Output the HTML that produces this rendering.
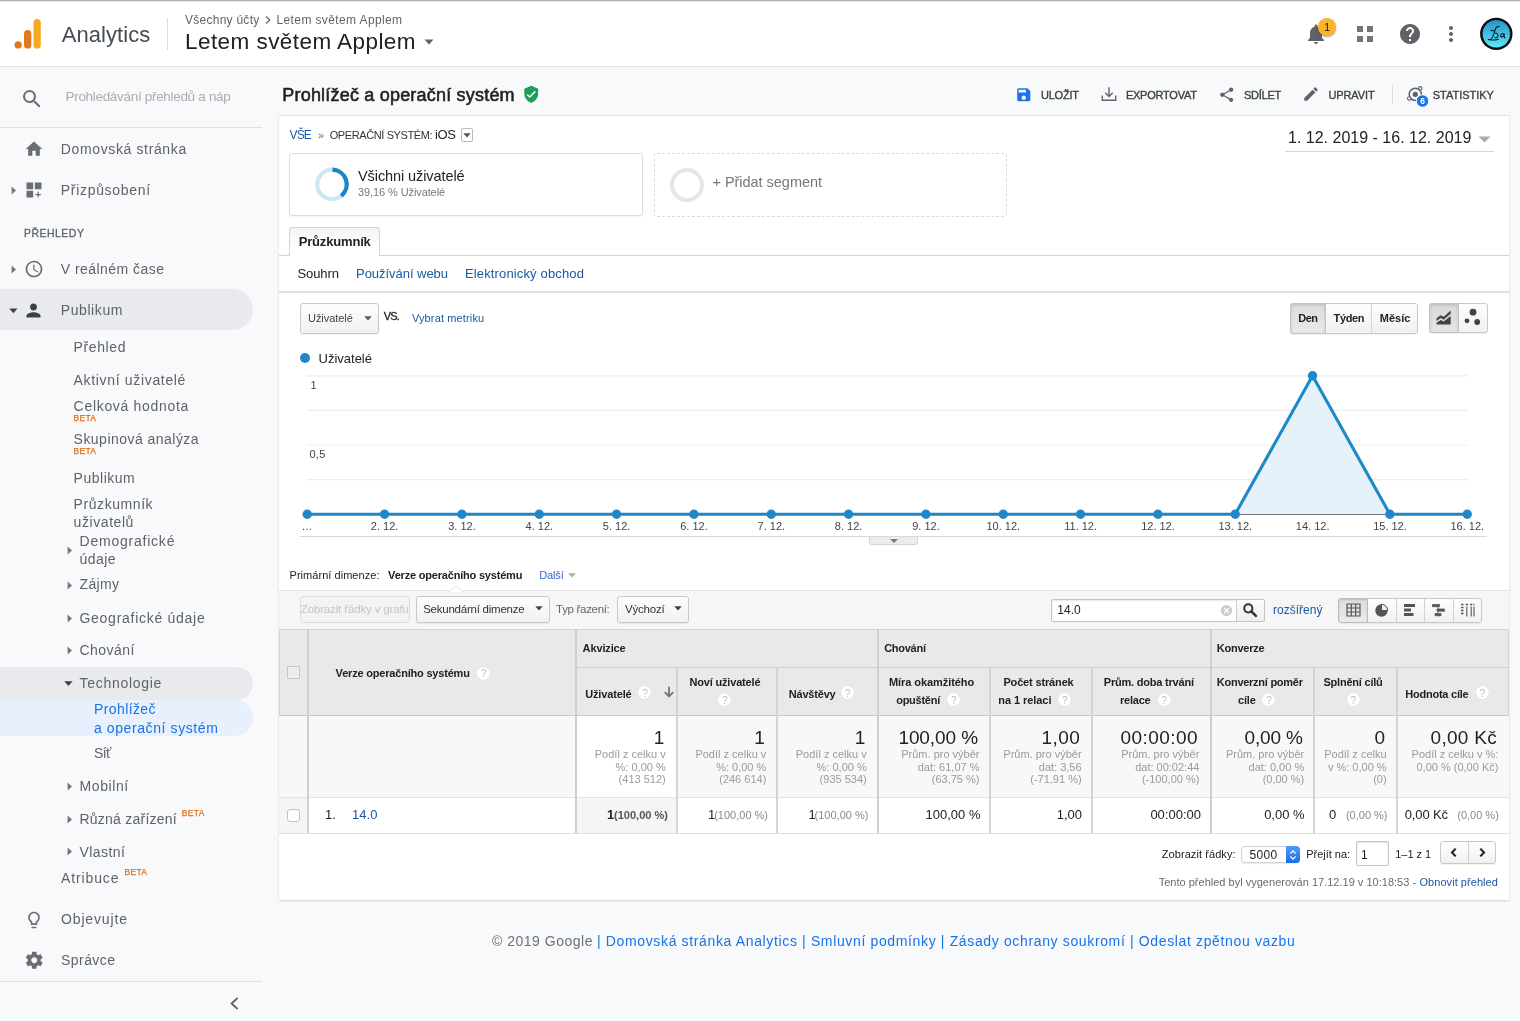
<!DOCTYPE html>
<html><head><meta charset="utf-8"><title>Analytics</title>
<style>
html,body{margin:0;padding:0}
body{width:1520px;height:1021px;overflow:hidden;position:relative;background:#f8f9fa;font-family:"Liberation Sans",sans-serif;}
.a{position:absolute;display:block;box-sizing:border-box}
.t{position:absolute;white-space:pre;line-height:1;display:block}
#w{position:absolute;left:0;top:0;width:1520px;height:1021px;will-change:transform}
</style></head><body><div id="w">
<div class="a" style="left:0px;top:0px;width:1520px;height:66px;background:#fff;"></div>
<div class="a" style="left:0px;top:0px;width:1520px;height:1px;background:#b2b2b2;"></div>
<div class="a" style="left:0px;top:1px;width:1520px;height:1px;background:#e6e6e6;"></div>
<div class="a" style="left:0px;top:66px;width:1520px;height:1px;background:#dfe1e5;"></div>
<svg class="a" style="left:12px;top:16px" width="34" height="36" viewBox="0 0 34 36"><rect x="21.5" y="3" width="7.3" height="29.6" rx="3.65" fill="#f7a823"/><rect x="12" y="14.1" width="7.3" height="18.5" rx="3.65" fill="#e3771f"/><circle cx="6.15" cy="28.95" r="3.65" fill="#e2761c"/></svg>
<span class="t" style="top:24px;font-size:22px;color:#454c54;left:61.80px;letter-spacing:0.050px;">Analytics</span>
<div class="a" style="left:167px;top:18px;width:1px;height:32px;background:#dadce0;"></div>
<span class="t" style="top:14px;font-size:12px;color:#5f6368;left:185.00px;letter-spacing:0.260px;">Všechny účty</span>
<svg class="a" style="left:263px;top:14.5px" width="10" height="10" viewBox="0 0 10 10"><path d="M3 1.5L6.8 5 3 8.5" fill="none" stroke="#5f6368" stroke-width="1.3"/></svg>
<span class="t" style="top:14px;font-size:12px;color:#5f6368;left:276.50px;letter-spacing:0.382px;">Letem světem Applem</span>
<span class="t" style="top:31px;font-size:22.5px;color:#202124;left:185.00px;letter-spacing:0.442px;">Letem světem Applem</span>
<svg class="a" style="left:424px;top:39px" width="10" height="6" viewBox="0 0 10 6"><path d="M0.5 0.5h9L5 5.5z" fill="#5f6368"/></svg>
<svg class="a" style="left:1304px;top:22px" width="24" height="24" viewBox="0 0 24 24" ><path fill="#5f6368" d="M12 22c1.1 0 2-.9 2-2h-4c0 1.1.89 2 2 2zm6-6v-5c0-3.07-1.64-5.64-4.5-6.32V4c0-.83-.67-1.5-1.5-1.5s-1.5.67-1.5 1.5v.68C7.63 5.36 6 7.92 6 11v5l-2 2v1h16v-1l-2-2z"/></svg>
<div class="a" style="left:1318.2px;top:18.2px;width:17.6px;height:17.6px;border-radius:50%;background:#f8b52c;box-shadow:0 1px 2px rgba(0,0,0,.35)"></div>
<span class="t" style="top:22px;font-size:11.5px;color:#202124;left:1327.20px;transform:translateX(-50%);">1</span>
<div class="a" style="left:1357px;top:26px;width:6.2px;height:6.2px;background:#757575;"></div>
<div class="a" style="left:1367px;top:26px;width:6.2px;height:6.2px;background:#757575;"></div>
<div class="a" style="left:1357px;top:36px;width:6.2px;height:6.2px;background:#757575;"></div>
<div class="a" style="left:1367px;top:36px;width:6.2px;height:6.2px;background:#757575;"></div>
<svg class="a" style="left:1398.3px;top:21.6px" width="24" height="24" viewBox="0 0 24 24" ><path fill="#5f6368" d="M12 2C6.48 2 2 6.48 2 12s4.48 10 10 10 10-4.48 10-10S17.52 2 12 2zm1 17h-2v-2h2v2zm2.07-7.75l-.9.92C13.45 12.9 13 13.5 13 15h-2v-.5c0-1.1.45-2.1 1.17-2.83l1.24-1.26c.37-.36.59-.86.59-1.41 0-1.1-.9-2-2-2s-2 .9-2 2H8c0-2.21 1.79-4 4-4s4 1.79 4 4c0 .88-.36 1.68-.93 2.25z"/></svg>
<svg class="a" style="left:1439.1px;top:21.6px" width="24" height="24" viewBox="0 0 24 24" ><path fill="#5f6368" d="M12 8c1.1 0 2-.9 2-2s-.9-2-2-2-2 .9-2 2 .9 2 2 2zm0 2c-1.1 0-2 .9-2 2s.9 2 2 2 2-.9 2-2-.9-2-2-2zm0 6c-1.1 0-2 .9-2 2s.9 2 2 2 2-.9 2-2-.9-2-2-2z"/></svg>
<svg class="a" style="left:1479px;top:16px" width="35" height="36" viewBox="0 0 35 36"><defs><linearGradient id="av" x1="0" y1="0" x2="0" y2="1"><stop offset="0" stop-color="#2792cc"/><stop offset="1" stop-color="#5eeaf8"/></linearGradient></defs><circle cx="17.3" cy="17.85" r="16.2" fill="#0c0a0a"/><circle cx="17.3" cy="17.85" r="14" fill="url(#av)"/><circle cx="17.3" cy="17.85" r="14" fill="none" stroke="#0c0a0a" stroke-width="1" stroke-dasharray="1.6 1.1"/><path d="M20.3 10.8c-1.500-1.100-3.100.3-3.900 2.400-1 2.700-1.700 6.300-3.400 8.800-1 1.400-2.700 2-3.800 1.300M9.600 23.500c3 .8 7 .500 9.900-.3M12 14.300c1.200.5 2.400.6 3.600.3M16.500 17.100c1.500.2 2.900 1.300 2.500 3.100-.3 1.200-1.700 1.600-2.900 1.300M25.200 17.900c-1.800-.8-3.500.4-3.700 1.800-.1 1.300 1.400 1.700 2.500.8l1.500-2.500c-.6 1.500-.7 3 .5 4" fill="none" stroke="#0a1a22" stroke-width="1.050" stroke-linecap="round"/></svg>
<svg class="a" style="left:19.5px;top:86.5px" width="24" height="24" viewBox="0 0 24 24" ><path fill="#6a6d71" d="M15.5 14h-.79l-.28-.27A6.471 6.471 0 0 0 16 9.5 6.5 6.5 0 1 0 9.5 16c1.61 0 3.09-.59 4.23-1.57l.27.28v.79l5 4.99L20.49 19l-4.99-5zm-6 0C7.01 14 5 11.99 5 9.5S7.01 5 9.5 5 14 7.01 14 9.5 11.99 14 9.5 14z"/></svg>
<span class="t" style="top:90px;font-size:13.5px;color:#aaadb1;left:65.50px;letter-spacing:-0.311px;">Prohledávání přehledů a náp</span>
<div class="a" style="left:0px;top:127px;width:262px;height:1px;background:#e0e0e0;"></div>
<svg class="a" style="left:24.2px;top:138.9px" width="20" height="20" viewBox="0 0 24 24" ><path fill="#6a6d71" d="M10 20v-6h4v6h5v-8h3L12 3 2 12h3v8z"/></svg>
<span class="t" style="top:142px;font-size:14px;color:#5f6368;left:60.80px;letter-spacing:0.629px;">Domovská stránka</span>
<svg class="a" style="left:10.8px;top:185.5px" width="6" height="9" viewBox="0 0 6 9"><path d="M0.6 0.6l4.4 3.9-4.4 3.9z" fill="#70757a"/></svg>
<svg class="a" style="left:24px;top:179.8px" width="20" height="20" viewBox="0 0 24 24" ><path fill="#6a6d71" d="M3 3h8v8H3zm10 0h8v8h-8zM3 13h8v8H3zm14.7 1.2h-1.4v2.6h-2.6v1.4h2.6v2.6h1.4v-2.6h2.6v-1.4h-2.6z"/></svg>
<span class="t" style="top:183px;font-size:14px;color:#5f6368;left:60.80px;letter-spacing:0.690px;">Přizpůsobení</span>
<span class="t" style="top:228px;font-size:10.5px;color:#5f6368;left:23.90px;letter-spacing:0.486px;-webkit-text-stroke:0.3px #5f6368;">PŘEHLEDY</span>
<svg class="a" style="left:10.8px;top:264.5px" width="6" height="9" viewBox="0 0 6 9"><path d="M0.6 0.6l4.4 3.9-4.4 3.9z" fill="#70757a"/></svg>
<svg class="a" style="left:23.8px;top:258.8px" width="20" height="20" viewBox="0 0 24 24" ><path fill="#6a6d71" d="M11.99 2C6.47 2 2 6.48 2 12s4.47 10 9.99 10C17.52 22 22 17.52 22 12S17.52 2 11.99 2zM12 20c-4.42 0-8-3.58-8-8s3.58-8 8-8 8 3.58 8 8-3.58 8-8 8zm.5-13H11v6l5.25 3.15.75-1.23-4.5-2.67z"/></svg>
<span class="t" style="top:262px;font-size:14px;color:#5f6368;left:60.80px;letter-spacing:0.458px;">V reálném čase</span>
<div class="a" style="left:0;top:289px;width:253px;height:41px;background:#e8eaed;border-radius:0 20.5px 20.5px 0"></div>
<svg class="a" style="left:9px;top:307.5px" width="9" height="6" viewBox="0 0 9 6"><path d="M0.3 0.4h8.2L4.4 5.2z" fill="#3c4043"/></svg>
<svg class="a" style="left:23.2px;top:299.6px" width="21" height="21" viewBox="0 0 24 24" ><path fill="#3c4043" d="M12 12c2.21 0 4-1.79 4-4s-1.79-4-4-4-4 1.79-4 4 1.79 4 4 4zm0 2c-2.67 0-8 1.34-8 4v2h16v-2c0-2.66-5.33-4-8-4z"/></svg>
<span class="t" style="top:303px;font-size:14px;color:#5f6368;left:60.80px;letter-spacing:0.576px;">Publikum</span>
<span class="t" style="top:340px;font-size:14px;color:#5f6368;left:73.60px;letter-spacing:0.605px;">Přehled</span>
<span class="t" style="top:373px;font-size:14px;color:#5f6368;left:73.60px;letter-spacing:0.666px;">Aktivní uživatelé</span>
<span class="t" style="top:399px;font-size:14px;color:#5f6368;left:73.60px;letter-spacing:0.695px;">Celková hodnota</span>
<span class="t" style="top:432px;font-size:14px;color:#5f6368;left:73.60px;letter-spacing:0.469px;">Skupinová analýza</span>
<span class="t" style="top:471px;font-size:14px;color:#5f6368;left:73.60px;letter-spacing:0.513px;">Publikum</span>
<span class="t" style="top:497px;font-size:14px;color:#5f6368;left:73.60px;letter-spacing:0.568px;">Průzkumník</span>
<span class="t" style="top:515px;font-size:14px;color:#5f6368;left:73.60px;letter-spacing:0.570px;">uživatelů</span>
<span class="t" style="top:534px;font-size:14px;color:#5f6368;left:79.50px;letter-spacing:0.777px;">Demografické</span>
<span class="t" style="top:552px;font-size:14px;color:#5f6368;left:79.50px;letter-spacing:0.427px;">údaje</span>
<span class="t" style="top:577px;font-size:14px;color:#5f6368;left:79.50px;letter-spacing:0.375px;">Zájmy</span>
<span class="t" style="top:611px;font-size:14px;color:#5f6368;left:79.50px;letter-spacing:0.721px;">Geografické údaje</span>
<span class="t" style="top:643px;font-size:14px;color:#5f6368;left:79.50px;letter-spacing:0.478px;">Chování</span>
<span class="t" style="top:414px;font-size:8.5px;color:#dd6f1c;left:73.40px;letter-spacing:0.355px;-webkit-text-stroke:0.25px #dd6f1c;">BETA</span>
<span class="t" style="top:447px;font-size:8.5px;color:#dd6f1c;left:73.40px;letter-spacing:0.355px;-webkit-text-stroke:0.25px #dd6f1c;">BETA</span>
<svg class="a" style="left:66.6px;top:545.7px" width="6" height="9" viewBox="0 0 6 9"><path d="M0.6 0.6l4.4 3.9-4.4 3.9z" fill="#70757a"/></svg>
<svg class="a" style="left:66.6px;top:580.5px" width="6" height="9" viewBox="0 0 6 9"><path d="M0.6 0.6l4.4 3.9-4.4 3.9z" fill="#70757a"/></svg>
<svg class="a" style="left:66.6px;top:613.5px" width="6" height="9" viewBox="0 0 6 9"><path d="M0.6 0.6l4.4 3.9-4.4 3.9z" fill="#70757a"/></svg>
<svg class="a" style="left:66.6px;top:646.4px" width="6" height="9" viewBox="0 0 6 9"><path d="M0.6 0.6l4.4 3.9-4.4 3.9z" fill="#70757a"/></svg>
<svg class="a" style="left:66.6px;top:781.5px" width="6" height="9" viewBox="0 0 6 9"><path d="M0.6 0.6l4.4 3.9-4.4 3.9z" fill="#70757a"/></svg>
<svg class="a" style="left:66.6px;top:814.5px" width="6" height="9" viewBox="0 0 6 9"><path d="M0.6 0.6l4.4 3.9-4.4 3.9z" fill="#70757a"/></svg>
<svg class="a" style="left:66.6px;top:847.3px" width="6" height="9" viewBox="0 0 6 9"><path d="M0.6 0.6l4.4 3.9-4.4 3.9z" fill="#70757a"/></svg>
<div class="a" style="left:0;top:667px;width:253px;height:32.6px;background:#e8eaed;border-radius:0 16.5px 16.5px 0"></div>
<div class="a" style="left:0;top:699.6px;width:253px;height:36.9px;background:#e8f0fe;border-radius:0 18px 18px 0"></div>
<svg class="a" style="left:64.4px;top:681px" width="9" height="6" viewBox="0 0 9 6"><path d="M0.3 0.3h8.3L4.4 5.1z" fill="#3c4043"/></svg>
<span class="t" style="top:676px;font-size:14px;color:#5f6368;left:79.50px;letter-spacing:0.706px;">Technologie</span>
<span class="t" style="top:702px;font-size:14px;color:#1a73e8;left:93.90px;letter-spacing:0.416px;">Prohlížeč</span>
<span class="t" style="top:721px;font-size:14px;color:#1a73e8;left:93.90px;letter-spacing:0.601px;">a operační systém</span>
<span class="t" style="top:746px;font-size:14px;color:#5f6368;left:93.90px;letter-spacing:-0.595px;">Síť</span>
<span class="t" style="top:779px;font-size:14px;color:#5f6368;left:79.50px;letter-spacing:0.594px;">Mobilní</span>
<span class="t" style="top:812px;font-size:14px;color:#5f6368;left:79.50px;letter-spacing:0.231px;">Různá zařízení</span>
<span class="t" style="top:809px;font-size:8.5px;color:#dd6f1c;left:181.70px;letter-spacing:0.355px;-webkit-text-stroke:0.25px #dd6f1c;">BETA</span>
<span class="t" style="top:845px;font-size:14px;color:#5f6368;left:79.60px;letter-spacing:0.413px;">Vlastní</span>
<span class="t" style="top:871px;font-size:14px;color:#5f6368;left:61.00px;letter-spacing:0.868px;">Atribuce</span>
<span class="t" style="top:868px;font-size:8.5px;color:#dd6f1c;left:124.40px;letter-spacing:0.355px;-webkit-text-stroke:0.25px #dd6f1c;">BETA</span>
<svg class="a" style="left:23.7px;top:909.7px" width="20" height="20" viewBox="0 0 24 24" ><path fill="#6a6d71" d="M9 21c0 .55.45 1 1 1h4c.55 0 1-.45 1-1v-1H9v1zm3-19C8.14 2 5 5.14 5 9c0 2.38 1.19 4.47 3 5.74V17c0 .55.45 1 1 1h6c.55 0 1-.45 1-1v-2.26c1.81-1.27 3-3.36 3-5.74 0-3.86-3.14-7-7-7zm2.85 11.1l-.85.6V16h-4v-2.3l-.85-.6A4.997 4.997 0 0 1 7 9c0-2.76 2.24-5 5-5s5 2.24 5 5c0 1.63-.8 3.16-2.15 4.1z"/></svg>
<span class="t" style="top:912px;font-size:14px;color:#5f6368;left:61.00px;letter-spacing:0.860px;">Objevujte</span>
<svg class="a" style="left:23.7px;top:950.4px" width="20.5" height="20.5" viewBox="0 0 24 24" ><path fill="#6a6d71" d="M19.43 12.98c.04-.32.07-.64.07-.98s-.03-.66-.07-.98l2.11-1.65c.19-.15.24-.42.12-.64l-2-3.46c-.12-.22-.39-.3-.61-.22l-2.49 1c-.52-.4-1.08-.73-1.69-.98l-.38-2.65C14.46 2.18 14.25 2 14 2h-4c-.25 0-.46.18-.49.42l-.38 2.65c-.61.25-1.17.59-1.69.98l-2.49-1c-.23-.09-.49 0-.61.22l-2 3.46c-.13.22-.07.49.12.64l2.11 1.65c-.04.32-.07.65-.07.98s.03.66.07.98l-2.11 1.65c-.19.15-.24.42-.12.64l2 3.46c.12.22.39.3.61.22l2.49-1c.52.4 1.08.73 1.69.98l.38 2.65c.03.24.24.42.49.42h4c.25 0 .46-.18.49-.42l.38-2.65c.61-.25 1.17-.59 1.69-.98l2.49 1c.23.09.49 0 .61-.22l2-3.46c.12-.22.07-.49-.12-.64l-2.11-1.65zM12 15.5c-1.93 0-3.5-1.57-3.5-3.5s1.57-3.5 3.5-3.5 3.5 1.57 3.5 3.5-1.57 3.5-3.5 3.5z"/></svg>
<span class="t" style="top:953px;font-size:14px;color:#5f6368;left:61.00px;letter-spacing:0.449px;">Správce</span>
<div class="a" style="left:0px;top:981px;width:262px;height:1px;background:#e0e0e0;"></div>
<svg class="a" style="left:228px;top:996px" width="13" height="15" viewBox="0 0 13 15"><path d="M9.6 2L3.6 7.5l6 5.5" fill="none" stroke="#5f6368" stroke-width="1.8"/></svg>
<span class="t" style="top:86px;font-size:18px;color:#202124;left:282.30px;letter-spacing:0.200px;-webkit-text-stroke:0.55px #202124;">Prohlížeč a operační systém</span>
<svg class="a" style="left:521.5px;top:85px" width="18.5" height="18.5" viewBox="0 0 24 24" ><path fill="#1e9d58" d="M12 1L3 5v6c0 5.55 3.84 10.74 9 12 5.16-1.26 9-6.45 9-12V5l-9-4zm-2 16l-4-4 1.41-1.41L10 14.17l6.59-6.59L18 9l-8 8z"/></svg>
<svg class="a" style="left:1014.5px;top:85.5px" width="17.5" height="17.5" viewBox="0 0 24 24" ><path fill="#1a73e8" d="M17 3H5c-1.11 0-2 .9-2 2v14c0 1.1.89 2 2 2h14c1.1 0 2-.9 2-2V7l-4-4zm-5 16c-1.66 0-3-1.34-3-3s1.34-3 3-3 3 1.34 3 3-1.34 3-3 3zm3-10H5V5h10v4z"/></svg>
<span class="t" style="top:90px;font-size:11px;color:#3c4043;left:1041.00px;letter-spacing:-0.237px;-webkit-text-stroke:0.35px #3c4043;">ULOŽIT</span>
<svg class="a" style="left:1100px;top:85px" width="18" height="18" viewBox="0 0 18 18"><path d="M9 2.2v9M5.3 7.8L9 11.5l3.7-3.7M2.3 10.5v4.8h13.4v-4.8" fill="none" stroke="#5f6368" stroke-width="1.4"/></svg>
<span class="t" style="top:90px;font-size:11px;color:#3c4043;left:1125.90px;letter-spacing:-0.236px;-webkit-text-stroke:0.35px #3c4043;">EXPORTOVAT</span>
<svg class="a" style="left:1217.5px;top:85.5px" width="17.5" height="17.5" viewBox="0 0 24 24" ><path fill="#5f6368" d="M18 16.08c-.76 0-1.44.3-1.96.77L8.91 12.7c.05-.23.09-.46.09-.7s-.04-.47-.09-.7l7.05-4.11c.54.5 1.25.81 2.04.81 1.66 0 3-1.34 3-3s-1.34-3-3-3-3 1.34-3 3c0 .24.04.47.09.7L8.04 9.81C7.5 9.31 6.79 9 6 9c-1.66 0-3 1.34-3 3s1.34 3 3 3c.79 0 1.5-.31 2.04-.81l7.12 4.16c-.05.21-.08.43-.08.65 0 1.61 1.31 2.92 2.92 2.92 1.61 0 2.92-1.31 2.92-2.92s-1.31-2.92-2.92-2.92z"/></svg>
<span class="t" style="top:90px;font-size:11px;color:#3c4043;left:1244.00px;letter-spacing:-0.253px;-webkit-text-stroke:0.35px #3c4043;">SDÍLET</span>
<svg class="a" style="left:1302.2px;top:85.2px" width="18" height="18" viewBox="0 0 24 24" ><path fill="#5f6368" d="M3 17.25V21h3.75L17.81 9.94l-3.75-3.75L3 17.25zM20.71 7.04c.39-.39.39-1.02 0-1.41l-2.34-2.34c-.39-.39-1.02-.39-1.41 0l-1.83 1.83 3.75 3.75 1.83-1.83z"/></svg>
<span class="t" style="top:90px;font-size:11px;color:#3c4043;left:1328.40px;letter-spacing:-0.094px;-webkit-text-stroke:0.35px #3c4043;">UPRAVIT</span>
<div class="a" style="left:1392px;top:85px;width:1px;height:19px;background:#dadce0;"></div>
<svg class="a" style="left:1405px;top:83px" width="26" height="26" viewBox="0 0 26 26"><circle cx="10.3" cy="11.3" r="6.1" fill="none" stroke="#5f6368" stroke-width="1.5"/><circle cx="10.3" cy="11.3" r="2.6" fill="#5f6368"/><circle cx="15.3" cy="5.3" r="1.7" fill="#f8f9fa" stroke="#5f6368" stroke-width="1.1"/><circle cx="4.2" cy="15.5" r="1.7" fill="#f8f9fa" stroke="#5f6368" stroke-width="1.1"/><circle cx="17.5" cy="18" r="6.2" fill="#1a73e8" stroke="#f8f9fa" stroke-width="1"/><text x="17.5" y="21.2" text-anchor="middle" font-family="Liberation Sans" font-weight="700" font-size="8.5" fill="#fff">6</text></svg>
<span class="t" style="top:90px;font-size:11px;color:#3c4043;left:1432.80px;letter-spacing:-0.033px;-webkit-text-stroke:0.35px #3c4043;">STATISTIKY</span>
<div class="a" style="left:279px;top:115px;width:1230px;height:784.5px;background:#fff;border-top:1px solid #e3e4e6;box-shadow:0 1px 2px rgba(0,0,0,.16)"></div>
<span class="t" style="top:129px;font-size:12px;color:#1a5aa0;left:289.50px;letter-spacing:-0.839px;">VŠE</span>
<span class="t" style="top:130px;font-size:11px;color:#666;left:318.00px;">»</span>
<span class="t" style="top:130px;font-size:11px;color:#333;left:329.70px;letter-spacing:-0.394px;">OPERAČNÍ SYSTÉM:</span>
<span class="t" style="top:128px;font-size:13px;color:#222;left:435.00px;letter-spacing:-0.391px;">iOS</span>
<div class="a" style="left:460.5px;top:127.5px;width:12.5px;height:14px;border:1px solid #bbb;border-radius:2px;background:#fff"></div>
<svg class="a" style="left:463px;top:132.5px" width="8" height="5" viewBox="0 0 8 5"><path d="M0.3 0.3h7.4L4 4.6z" fill="#555"/></svg>
<span class="t" style="top:130px;font-size:16px;color:#222;left:1288.00px;letter-spacing:0.005px;">1. 12. 2019 - 16. 12. 2019</span>
<svg class="a" style="left:1477.5px;top:135.5px" width="13" height="7" viewBox="0 0 13 7"><path d="M0.5 0.5h12L6.5 6.5z" fill="#aaa"/></svg>
<div class="a" style="left:1284.5px;top:151px;width:209px;height:1px;background:#d5d5d5;"></div>
<div class="a" style="left:289px;top:153px;width:353.5px;height:63px;border:1px solid #dcdcdc;border-radius:3px;background:#fff;box-shadow:0 1px 1px rgba(0,0,0,.04)"></div>
<svg class="a" style="left:312px;top:164px" width="40" height="40" viewBox="0 0 40 40"><circle cx="20" cy="20.4" r="14.7" fill="none" stroke="#cfe7f5" stroke-width="4.2"/><path d="M20.51 5.71A14.7 14.7 0 0 1 29.25 31.82" fill="none" stroke="#1a86c7" stroke-width="4.2"/></svg>
<span class="t" style="top:169px;font-size:14.5px;color:#222;left:358.00px;letter-spacing:-0.088px;">Všichni uživatelé</span>
<span class="t" style="top:187px;font-size:11px;color:#777;left:358.00px;letter-spacing:-0.098px;">39,16 % Uživatelé</span>
<div class="a" style="left:653.5px;top:153px;width:353.5px;height:63.7px;border:1px dashed #dcdcdc;border-radius:3px;"></div>
<div class="a" style="left:670px;top:167.5px;width:34px;height:34px;border:4.5px solid #e6e6e6;border-radius:50%;"></div>
<span class="t" style="top:175px;font-size:14.5px;color:#777;left:712.50px;letter-spacing:-0.033px;">+ Přidat segment</span>
<div class="a" style="left:279px;top:255px;width:1230px;height:1.4px;background:#d4d4d4;"></div>
<div class="a" style="left:289px;top:227px;width:91px;height:29.4px;border:1px solid #d4d4d4;border-bottom:none;border-radius:3px 3px 0 0;background:linear-gradient(#f3f3f3,#fff 70%);"></div>
<span class="t" style="top:235px;font-size:13px;color:#222;font-weight:700;left:298.70px;letter-spacing:-0.169px;">Průzkumník</span>
<span class="t" style="top:267px;font-size:13px;color:#222;left:297.40px;letter-spacing:-0.070px;">Souhrn</span>
<span class="t" style="top:267px;font-size:13px;color:#1a5aa0;left:356.00px;letter-spacing:-0.037px;">Používání webu</span>
<span class="t" style="top:267px;font-size:13px;color:#1a5aa0;left:465.00px;letter-spacing:0.140px;">Elektronický obchod</span>
<div class="a" style="left:279px;top:291px;width:1230px;height:1.8px;background:#dedede;"></div>
<div class="a" style="left:300px;top:302.5px;width:78.5px;height:31.5px;border:1px solid #c9c9c9;border-radius:3px;background:linear-gradient(#fdfdfd,#f1f1f1);box-shadow:0 1px 1px rgba(0,0,0,.06);"></div>
<span class="t" style="top:313px;font-size:11px;color:#444;left:308.00px;letter-spacing:-0.061px;">Uživatelé</span>
<svg class="a" style="left:363.5px;top:316px" width="8" height="5" viewBox="0 0 8 5"><path d="M0.3 0.3h7.4L4 4.6z" fill="#555"/></svg>
<span class="t" style="top:311px;font-size:11px;color:#222;left:383.70px;letter-spacing:-0.745px;-webkit-text-stroke:0.3px #222;">VS.</span>
<span class="t" style="top:313px;font-size:11px;color:#1a5aa0;left:411.90px;letter-spacing:0.135px;">Vybrat metriku</span>
<div class="a" style="left:1290px;top:303px;width:128px;height:31px;border:1px solid #c9c9c9;border-radius:3px;background:linear-gradient(#fdfdfd,#f1f1f1);box-shadow:0 1px 1px rgba(0,0,0,.06);"></div>
<div class="a" style="left:1290px;top:303px;width:36px;height:31px;border:1px solid #c4c4c4;border-radius:3px 0 0 3px;background:linear-gradient(#dcdcdc,#e9e9e9);box-shadow:inset 0 1px 3px rgba(0,0,0,.15)"></div>
<div class="a" style="left:1371px;top:304px;width:1px;height:29px;background:#d4d4d4;"></div>
<span class="t" style="top:313px;font-size:11px;color:#222;font-weight:700;left:1298.30px;letter-spacing:-0.560px;">Den</span>
<span class="t" style="top:313px;font-size:11px;color:#222;font-weight:700;left:1333.50px;letter-spacing:-0.341px;">Týden</span>
<span class="t" style="top:313px;font-size:11px;color:#222;font-weight:700;left:1379.80px;letter-spacing:0.004px;">Měsíc</span>
<div class="a" style="left:1429px;top:303px;width:59px;height:29.5px;border:1px solid #c9c9c9;border-radius:3px;background:linear-gradient(#fdfdfd,#f1f1f1);box-shadow:0 1px 1px rgba(0,0,0,.06);"></div>
<div class="a" style="left:1429px;top:303px;width:29.5px;height:29.5px;border:1px solid #c4c4c4;border-radius:3px 0 0 3px;background:linear-gradient(#d8d8d8,#e6e6e6);box-shadow:inset 0 1px 3px rgba(0,0,0,.15)"></div>
<svg class="a" style="left:1435px;top:308px" width="18" height="18" viewBox="0 0 18 18"><path d="M1.5 10.2l4.2-3 3 1.6 7-6.3v3.2l-7 6-3-1.6-4.2 3z" fill="#444"/><path d="M1.5 14.8l4.2-2.9 3 1.6 7-5.6v8.6h-14.2z" fill="#444"/></svg>
<svg class="a" style="left:1463px;top:307px" width="20" height="20" viewBox="0 0 20 20"><circle cx="10" cy="5.2" r="3.4" fill="#444"/><circle cx="4" cy="13.8" r="2.4" fill="#444"/><circle cx="14.2" cy="15" r="2.9" fill="#444"/></svg>
<div class="a" style="left:299.6px;top:352.9px;width:10.2px;height:10.2px;border-radius:50%;background:#1f88c8"></div>
<span class="t" style="top:352px;font-size:13px;color:#222;left:318.50px;letter-spacing:0.003px;">Uživatelé</span>
<svg class="a" style="left:0;top:0" width="1520" height="560" viewBox="0 0 1520 560"><line x1="306.5" x2="1467.5" y1="375.80" y2="375.80" stroke="#ededed" stroke-width="1.2"/><line x1="306.5" x2="1467.5" y1="410.40" y2="410.40" stroke="#ededed" stroke-width="1.2"/><line x1="306.5" x2="1467.5" y1="445.00" y2="445.00" stroke="#ededed" stroke-width="1.2"/><line x1="306.5" x2="1467.5" y1="479.60" y2="479.60" stroke="#ededed" stroke-width="1.2"/><line x1="306.5" x2="1467.5" y1="514.50" y2="514.50" stroke="#555" stroke-width="1"/><path d="M1235.20 514.20L1312.53 375.80L1389.87 514.20Z" fill="#e6f2fa"/><polyline points="307.20,514.20 384.53,514.20 461.87,514.20 539.20,514.20 616.53,514.20 693.87,514.20 771.20,514.20 848.53,514.20 925.87,514.20 1003.20,514.20 1080.53,514.20 1157.87,514.20 1235.20,514.20 1312.53,375.80 1389.87,514.20 1467.20,514.20" fill="none" stroke="#1f88c8" stroke-width="3.1" stroke-linejoin="round"/><circle cx="307.20" cy="514.20" r="4.7" fill="#1f88c8"/><circle cx="384.53" cy="514.20" r="4.7" fill="#1f88c8"/><circle cx="461.87" cy="514.20" r="4.7" fill="#1f88c8"/><circle cx="539.20" cy="514.20" r="4.7" fill="#1f88c8"/><circle cx="616.53" cy="514.20" r="4.7" fill="#1f88c8"/><circle cx="693.87" cy="514.20" r="4.7" fill="#1f88c8"/><circle cx="771.20" cy="514.20" r="4.7" fill="#1f88c8"/><circle cx="848.53" cy="514.20" r="4.7" fill="#1f88c8"/><circle cx="925.87" cy="514.20" r="4.7" fill="#1f88c8"/><circle cx="1003.20" cy="514.20" r="4.7" fill="#1f88c8"/><circle cx="1080.53" cy="514.20" r="4.7" fill="#1f88c8"/><circle cx="1157.87" cy="514.20" r="4.7" fill="#1f88c8"/><circle cx="1235.20" cy="514.20" r="4.7" fill="#1f88c8"/><circle cx="1312.53" cy="375.80" r="4.7" fill="#1f88c8"/><circle cx="1389.87" cy="514.20" r="4.7" fill="#1f88c8"/><circle cx="1467.20" cy="514.20" r="4.7" fill="#1f88c8"/></svg>
<span class="t" style="top:380px;font-size:11px;color:#444;left:310.50px;">1</span>
<span class="t" style="top:449px;font-size:11px;color:#444;left:309.50px;letter-spacing:0.234px;">0,5</span>
<span class="t" style="top:521px;font-size:11px;color:#444;left:301.50px;letter-spacing:-0.500px;">…</span>
<span class="t" style="top:521px;font-size:11px;color:#444;left:384.63px;transform:translateX(-50%);">2. 12.</span>
<span class="t" style="top:521px;font-size:11px;color:#444;left:461.97px;transform:translateX(-50%);">3. 12.</span>
<span class="t" style="top:521px;font-size:11px;color:#444;left:539.30px;transform:translateX(-50%);">4. 12.</span>
<span class="t" style="top:521px;font-size:11px;color:#444;left:616.63px;transform:translateX(-50%);">5. 12.</span>
<span class="t" style="top:521px;font-size:11px;color:#444;left:693.97px;transform:translateX(-50%);">6. 12.</span>
<span class="t" style="top:521px;font-size:11px;color:#444;left:771.30px;transform:translateX(-50%);">7. 12.</span>
<span class="t" style="top:521px;font-size:11px;color:#444;left:848.63px;transform:translateX(-50%);">8. 12.</span>
<span class="t" style="top:521px;font-size:11px;color:#444;left:925.97px;transform:translateX(-50%);">9. 12.</span>
<span class="t" style="top:521px;font-size:11px;color:#444;left:1003.30px;transform:translateX(-50%);">10. 12.</span>
<span class="t" style="top:521px;font-size:11px;color:#444;left:1080.63px;transform:translateX(-50%);">11. 12.</span>
<span class="t" style="top:521px;font-size:11px;color:#444;left:1157.97px;transform:translateX(-50%);">12. 12.</span>
<span class="t" style="top:521px;font-size:11px;color:#444;left:1235.30px;transform:translateX(-50%);">13. 12.</span>
<span class="t" style="top:521px;font-size:11px;color:#444;left:1312.63px;transform:translateX(-50%);">14. 12.</span>
<span class="t" style="top:521px;font-size:11px;color:#444;left:1389.97px;transform:translateX(-50%);">15. 12.</span>
<span class="t" style="top:521px;font-size:11px;color:#444;left:1467.30px;transform:translateX(-50%);">16. 12.</span>
<div class="a" style="left:300px;top:536px;width:1187px;height:1.4px;background:#d9d9d9;"></div>
<div class="a" style="left:869px;top:537px;width:49px;height:7.5px;background:#ececec;border:1px solid #d4d4d4;border-top:none;border-radius:0 0 3px 3px"></div>
<svg class="a" style="left:889.5px;top:538.5px" width="8" height="4" viewBox="0 0 8 4"><path d="M0 0h8L4 4z" fill="#777"/></svg>
<span class="t" style="top:570px;font-size:11px;color:#222;left:289.50px;letter-spacing:0.043px;">Primární dimenze:</span>
<span class="t" style="top:570px;font-size:11px;color:#222;font-weight:700;left:388.10px;letter-spacing:-0.195px;">Verze operačního systému</span>
<span class="t" style="top:570px;font-size:11px;color:#3367d6;left:539.30px;letter-spacing:-0.152px;">Další</span>
<svg class="a" style="left:567.5px;top:572.5px" width="8" height="5" viewBox="0 0 8 5"><path d="M0.3 0.3h7.4L4 4.6z" fill="#aaa"/></svg>
<div class="a" style="left:279px;top:590px;width:1230px;height:39.5px;background:#f6f6f6;border-top:1px solid #e6e6e6;"></div>
<svg class="a" style="left:449px;top:584.5px" width="14" height="7" viewBox="0 0 14 7"><path d="M0.5 6.5L7 0.8l6.5 5.7" fill="#fff" stroke="#e0e0e0" stroke-width="1"/><path d="M1.3 7L7 1.9 12.7 7z" fill="#fff"/></svg>
<div class="a" style="left:299.7px;top:595.6px;width:110px;height:27.7px;border:1px solid #ddd;border-radius:3px;background:#f3f3f3"></div>
<span class="t" style="top:604px;font-size:11.5px;color:#c4c4c4;left:300.80px;letter-spacing:-0.146px;">Zobrazit řádky v grafu</span>
<div class="a" style="left:415.8px;top:595.6px;width:134.5px;height:27.7px;border:1px solid #c9c9c9;border-radius:3px;background:linear-gradient(#fdfdfd,#f1f1f1);box-shadow:0 1px 1px rgba(0,0,0,.06);"></div>
<span class="t" style="top:604px;font-size:11.5px;color:#333;left:423.20px;letter-spacing:-0.238px;">Sekundární dimenze</span>
<svg class="a" style="left:534.5px;top:606px" width="8" height="5" viewBox="0 0 8 5"><path d="M0.3 0.3h7.4L4 4.6z" fill="#444"/></svg>
<span class="t" style="top:604px;font-size:11.5px;color:#666;left:556.10px;letter-spacing:-0.317px;">Typ řazení:</span>
<div class="a" style="left:617.2px;top:595.6px;width:72.2px;height:27.7px;border:1px solid #c9c9c9;border-radius:3px;background:linear-gradient(#fdfdfd,#f1f1f1);box-shadow:0 1px 1px rgba(0,0,0,.06);"></div>
<span class="t" style="top:604px;font-size:11.5px;color:#333;left:625.00px;letter-spacing:-0.203px;">Výchozí</span>
<svg class="a" style="left:673.5px;top:606px" width="8" height="5" viewBox="0 0 8 5"><path d="M0.3 0.3h7.4L4 4.6z" fill="#444"/></svg>
<div class="a" style="left:1051px;top:598.5px;width:213.5px;height:23px;border:1px solid #c4c4c4;border-radius:2px;background:#fff;box-shadow:inset 0 1px 2px rgba(0,0,0,.1)"></div>
<div class="a" style="left:1236px;top:599.5px;width:27.5px;height:21px;border-left:1px solid #ccc;background:linear-gradient(#fbfbfb,#eee)"></div>
<span class="t" style="top:604px;font-size:12px;color:#222;left:1057.30px;letter-spacing:0.035px;">14.0</span>
<svg class="a" style="left:1219.5px;top:603.5px" width="13" height="13" viewBox="0 0 13 13"><circle cx="6.5" cy="6.5" r="5.6" fill="#cfcfcf"/><path d="M4.3 4.3l4.4 4.4M8.7 4.3L4.3 8.7" stroke="#fff" stroke-width="1.3"/></svg>
<svg class="a" style="left:1242px;top:602px" width="16" height="16" viewBox="0 0 16 16"><circle cx="6.3" cy="6.3" r="4.1" fill="none" stroke="#333" stroke-width="2"/><path d="M9.3 9.3l4.6 4.6" stroke="#333" stroke-width="2.6" stroke-linecap="round"/></svg>
<span class="t" style="top:604px;font-size:12px;color:#1a5aa0;left:1273.00px;letter-spacing:0.016px;">rozšířený</span>
<div class="a" style="left:1338.3px;top:597.6px;width:143.5px;height:25px;border:1px solid #c9c9c9;border-radius:3px;background:linear-gradient(#fdfdfd,#f1f1f1);box-shadow:0 1px 1px rgba(0,0,0,.06);"></div>
<div class="a" style="left:1338.3px;top:597.6px;width:29.5px;height:25px;border:1px solid #bdbdbd;border-radius:3px 0 0 3px;background:linear-gradient(#dedede,#ebebeb);box-shadow:inset 0 1px 2px rgba(0,0,0,.15)"></div>
<div class="a" style="left:1395.7px;top:598.6px;width:1px;height:23px;background:#d2d2d2;"></div>
<div class="a" style="left:1424.4px;top:598.6px;width:1px;height:23px;background:#d2d2d2;"></div>
<div class="a" style="left:1453.1px;top:598.6px;width:1px;height:23px;background:#d2d2d2;"></div>
<svg class="a" style="left:1345.5px;top:603px" width="15" height="14" viewBox="0 0 15 14"><path d="M1 1h13v12H1zM1 5h13M1 9h13M5.3 1v12M9.7 1v12" fill="none" stroke="#555" stroke-width="1.2"/></svg>
<svg class="a" style="left:1374px;top:603px" width="15" height="15" viewBox="0 0 15 15"><circle cx="7.5" cy="7.5" r="6.2" fill="#555"/><path d="M7.5 7.5V1.3A6.2 6.2 0 0 1 13.7 7.5z" fill="#ededed" stroke="#555" stroke-width="1"/></svg>
<svg class="a" style="left:1403px;top:603px" width="14" height="14" viewBox="0 0 14 14"><path d="M1 1h11v3H1zM1 5.5h7v3H1zM1 10h9.5v3H1z" fill="#555"/></svg>
<svg class="a" style="left:1431px;top:603px" width="15" height="14" viewBox="0 0 15 14"><path d="M1.5 1.5h7v2.2h-7zM6 6h7.5v2.2H6zM4 10.5h6v2.2H4zM7 1v12.5" fill="#555" stroke="#555" stroke-width="0.8"/></svg>
<svg class="a" style="left:1460px;top:603px" width="15" height="14" viewBox="0 0 15 14"><path d="M1 1.5h2.5M1 4.5h2.5M1 7.5h2.5M1 10.5h2.5M5.7 1.5h2.3M10 1.5h2.3M13.5 1.5h1" stroke="#555" stroke-width="1.6" fill="none"/><path d="M6.8 3.5v10M11.2 3.5v10M14 3.5v10" stroke="#555" stroke-width="1.1" fill="none"/></svg>
<div class="a" style="left:279px;top:629.2px;width:1230px;height:86.3px;background:#e9e9e9;"></div>
<div class="a" style="left:279px;top:715.5px;width:1230px;height:81.8px;background:#f8f8f8;"></div>
<div class="a" style="left:576px;top:715.5px;width:101px;height:81.8px;background:#fff;"></div>
<div class="a" style="left:279px;top:797.3px;width:1230px;height:36.1px;background:#fff;"></div>
<div class="a" style="left:576px;top:797.3px;width:101px;height:36.1px;background:#f5f5f5;"></div>
<div class="a" style="left:279px;top:797.3px;width:29px;height:36.1px;background:#f5f5f5;"></div>
<div class="a" style="left:279px;top:628.6px;width:1230px;height:1.3px;background:#d6d6d6;"></div>
<div class="a" style="left:576px;top:666.7px;width:933px;height:1.2px;background:#cfcfcf;"></div>
<div class="a" style="left:279px;top:714.7px;width:1230px;height:1.8px;background:#c9c9c9;"></div>
<div class="a" style="left:279px;top:796.8px;width:1230px;height:1px;background:#e3e3e3;"></div>
<div class="a" style="left:279px;top:832.9px;width:1230px;height:1.2px;background:#e0e0e0;"></div>
<div class="a" style="left:307.4px;top:629.2px;width:1.2px;height:204.2px;background:#cfcfcf;"></div>
<div class="a" style="left:575.4px;top:629.2px;width:1.2px;height:204.2px;background:#cfcfcf;"></div>
<div class="a" style="left:877.4px;top:629.2px;width:1.2px;height:204.2px;background:#cfcfcf;"></div>
<div class="a" style="left:1210.4px;top:629.2px;width:1.2px;height:204.2px;background:#cfcfcf;"></div>
<div class="a" style="left:676.4px;top:667.2px;width:1.2px;height:166.2px;background:#d4d4d4;"></div>
<div class="a" style="left:776.4px;top:667.2px;width:1.2px;height:166.2px;background:#d4d4d4;"></div>
<div class="a" style="left:989.4px;top:667.2px;width:1.2px;height:166.2px;background:#d4d4d4;"></div>
<div class="a" style="left:1091.4px;top:667.2px;width:1.2px;height:166.2px;background:#d4d4d4;"></div>
<div class="a" style="left:1313.4px;top:667.2px;width:1.2px;height:166.2px;background:#d4d4d4;"></div>
<div class="a" style="left:1396.4px;top:667.2px;width:1.2px;height:166.2px;background:#d4d4d4;"></div>
<div class="a" style="left:279px;top:629.2px;width:1px;height:86.3px;background:#d6d6d6;"></div>
<div class="a" style="left:1508px;top:629.2px;width:1px;height:86.3px;background:#d6d6d6;"></div>
<div class="a" style="left:287.3px;top:666px;width:13px;height:13.3px;border:1px solid #c6c6c6;background:#ececec;border-radius:1px"></div>
<span class="t" style="top:668px;font-size:11px;color:#222;font-weight:700;left:335.60px;letter-spacing:-0.195px;">Verze operačního systému</span>
<div class="a" style="left:477px;top:666.5px;width:13px;height:13px;border-radius:50%;background:#fff;box-shadow:0 0 1px rgba(0,0,0,.12)"></div>
<span class="t" style="top:669px;font-size:10px;color:#bcbcbc;left:483.70px;transform:translateX(-50%);">?</span>
<span class="t" style="top:643px;font-size:11px;color:#222;font-weight:700;left:582.60px;letter-spacing:-0.129px;">Akvizice</span>
<span class="t" style="top:643px;font-size:11px;color:#222;font-weight:700;left:884.20px;letter-spacing:-0.272px;">Chování</span>
<span class="t" style="top:643px;font-size:11px;color:#222;font-weight:700;left:1216.80px;letter-spacing:-0.254px;">Konverze</span>
<span class="t" style="top:689px;font-size:11px;color:#222;font-weight:700;left:585.20px;letter-spacing:-0.145px;">Uživatelé</span>
<div class="a" style="left:638.3px;top:686.4px;width:13px;height:13px;border-radius:50%;background:#fff;box-shadow:0 0 1px rgba(0,0,0,.12)"></div>
<span class="t" style="top:689px;font-size:10px;color:#bcbcbc;left:645.00px;transform:translateX(-50%);">?</span>
<svg class="a" style="left:663px;top:686px" width="12" height="12" viewBox="0 0 12 12"><path d="M6 0.8v9.4M1.8 6.2L6 10.4l4.2-4.2" fill="none" stroke="#767676" stroke-width="1.8"/></svg>
<span class="t" style="top:677px;font-size:11px;color:#222;font-weight:700;left:689.40px;letter-spacing:-0.169px;">Noví uživatelé</span>
<div class="a" style="left:718.2px;top:693.3px;width:13px;height:13px;border-radius:50%;background:#fff;box-shadow:0 0 1px rgba(0,0,0,.12)"></div>
<span class="t" style="top:696px;font-size:10px;color:#bcbcbc;left:724.90px;transform:translateX(-50%);">?</span>
<span class="t" style="top:689px;font-size:11px;color:#222;font-weight:700;left:788.80px;letter-spacing:-0.204px;">Návštěvy</span>
<div class="a" style="left:841.2px;top:686.4px;width:13px;height:13px;border-radius:50%;background:#fff;box-shadow:0 0 1px rgba(0,0,0,.12)"></div>
<span class="t" style="top:689px;font-size:10px;color:#bcbcbc;left:847.90px;transform:translateX(-50%);">?</span>
<span class="t" style="top:677px;font-size:11px;color:#222;font-weight:700;left:888.90px;letter-spacing:-0.059px;">Míra okamžitého</span>
<span class="t" style="top:695px;font-size:11px;color:#222;font-weight:700;left:896.20px;letter-spacing:-0.255px;">opuštění</span>
<div class="a" style="left:947.1px;top:693.3px;width:13px;height:13px;border-radius:50%;background:#fff;box-shadow:0 0 1px rgba(0,0,0,.12)"></div>
<span class="t" style="top:696px;font-size:10px;color:#bcbcbc;left:953.80px;transform:translateX(-50%);">?</span>
<span class="t" style="top:677px;font-size:11px;color:#222;font-weight:700;left:1003.40px;letter-spacing:-0.150px;">Počet stránek</span>
<span class="t" style="top:695px;font-size:11px;color:#222;font-weight:700;left:998.30px;letter-spacing:-0.066px;">na 1 relaci</span>
<div class="a" style="left:1058.1px;top:693.3px;width:13px;height:13px;border-radius:50%;background:#fff;box-shadow:0 0 1px rgba(0,0,0,.12)"></div>
<span class="t" style="top:696px;font-size:10px;color:#bcbcbc;left:1064.80px;transform:translateX(-50%);">?</span>
<span class="t" style="top:677px;font-size:11px;color:#222;font-weight:700;left:1103.80px;letter-spacing:-0.208px;">Prům. doba trvání</span>
<span class="t" style="top:695px;font-size:11px;color:#222;font-weight:700;left:1119.90px;letter-spacing:-0.202px;">relace</span>
<div class="a" style="left:1157.6px;top:693.3px;width:13px;height:13px;border-radius:50%;background:#fff;box-shadow:0 0 1px rgba(0,0,0,.12)"></div>
<span class="t" style="top:696px;font-size:10px;color:#bcbcbc;left:1164.30px;transform:translateX(-50%);">?</span>
<span class="t" style="top:677px;font-size:11px;color:#222;font-weight:700;left:1216.80px;letter-spacing:-0.264px;">Konverzní poměr</span>
<span class="t" style="top:695px;font-size:11px;color:#222;font-weight:700;left:1238.00px;letter-spacing:-0.165px;">cíle</span>
<div class="a" style="left:1262.4px;top:693.3px;width:13px;height:13px;border-radius:50%;background:#fff;box-shadow:0 0 1px rgba(0,0,0,.12)"></div>
<span class="t" style="top:696px;font-size:10px;color:#bcbcbc;left:1269.10px;transform:translateX(-50%);">?</span>
<span class="t" style="top:677px;font-size:11px;color:#222;font-weight:700;left:1323.50px;letter-spacing:-0.220px;">Splnění cílů</span>
<div class="a" style="left:1346.7px;top:693.3px;width:13px;height:13px;border-radius:50%;background:#fff;box-shadow:0 0 1px rgba(0,0,0,.12)"></div>
<span class="t" style="top:696px;font-size:10px;color:#bcbcbc;left:1353.40px;transform:translateX(-50%);">?</span>
<span class="t" style="top:689px;font-size:11px;color:#222;font-weight:700;left:1405.30px;letter-spacing:-0.235px;">Hodnota cíle</span>
<div class="a" style="left:1475.5px;top:686.4px;width:13px;height:13px;border-radius:50%;background:#fff;box-shadow:0 0 1px rgba(0,0,0,.12)"></div>
<span class="t" style="top:689px;font-size:10px;color:#bcbcbc;left:1482.20px;transform:translateX(-50%);">?</span>
<span class="t" style="top:728px;font-size:19px;color:#222;right:855.80px;">1</span>
<span class="t" style="top:749px;font-size:11px;color:#9a9a9a;right:854.30px;">Podíl z celku v</span>
<span class="t" style="top:762px;font-size:11px;color:#9a9a9a;right:854.30px;">%: 0,00 %</span>
<span class="t" style="top:774px;font-size:11px;color:#9a9a9a;right:854.30px;">(413 512)</span>
<span class="t" style="top:728px;font-size:19px;color:#222;right:755.20px;">1</span>
<span class="t" style="top:749px;font-size:11px;color:#9a9a9a;right:753.70px;">Podíl z celku v</span>
<span class="t" style="top:762px;font-size:11px;color:#9a9a9a;right:753.70px;">%: 0,00 %</span>
<span class="t" style="top:774px;font-size:11px;color:#9a9a9a;right:753.70px;">(246 614)</span>
<span class="t" style="top:728px;font-size:19px;color:#222;right:654.80px;">1</span>
<span class="t" style="top:749px;font-size:11px;color:#9a9a9a;right:653.30px;">Podíl z celku v</span>
<span class="t" style="top:762px;font-size:11px;color:#9a9a9a;right:653.30px;">%: 0,00 %</span>
<span class="t" style="top:774px;font-size:11px;color:#9a9a9a;right:653.30px;">(935 534)</span>
<span class="t" style="top:728px;font-size:19px;color:#222;right:542.00px;letter-spacing:-0.087px;">100,00 %</span>
<span class="t" style="top:749px;font-size:11px;color:#9a9a9a;right:540.50px;">Prům. pro výběr</span>
<span class="t" style="top:762px;font-size:11px;color:#9a9a9a;right:540.50px;">dat: 61,07 %</span>
<span class="t" style="top:774px;font-size:11px;color:#9a9a9a;right:540.50px;">(63,75 %)</span>
<span class="t" style="top:728px;font-size:19px;color:#222;right:439.90px;letter-spacing:0.379px;">1,00</span>
<span class="t" style="top:749px;font-size:11px;color:#9a9a9a;right:438.40px;">Prům. pro výběr</span>
<span class="t" style="top:762px;font-size:11px;color:#9a9a9a;right:438.40px;">dat: 3,56</span>
<span class="t" style="top:774px;font-size:11px;color:#9a9a9a;right:438.40px;">(-71,91 %)</span>
<span class="t" style="top:728px;font-size:19px;color:#222;right:322.10px;letter-spacing:0.429px;">00:00:00</span>
<span class="t" style="top:749px;font-size:11px;color:#9a9a9a;right:320.60px;">Prům. pro výběr</span>
<span class="t" style="top:762px;font-size:11px;color:#9a9a9a;right:320.60px;">dat: 00:02:44</span>
<span class="t" style="top:774px;font-size:11px;color:#9a9a9a;right:320.60px;">(-100,00 %)</span>
<span class="t" style="top:728px;font-size:19px;color:#222;right:217.30px;letter-spacing:-0.176px;">0,00 %</span>
<span class="t" style="top:749px;font-size:11px;color:#9a9a9a;right:215.80px;">Prům. pro výběr</span>
<span class="t" style="top:762px;font-size:11px;color:#9a9a9a;right:215.80px;">dat: 0,00 %</span>
<span class="t" style="top:774px;font-size:11px;color:#9a9a9a;right:215.80px;">(0,00 %)</span>
<span class="t" style="top:728px;font-size:19px;color:#222;right:134.90px;">0</span>
<span class="t" style="top:749px;font-size:11px;color:#9a9a9a;right:133.40px;">Podíl z celku</span>
<span class="t" style="top:762px;font-size:11px;color:#9a9a9a;right:133.40px;">v %: 0,00 %</span>
<span class="t" style="top:774px;font-size:11px;color:#9a9a9a;right:133.40px;">(0)</span>
<span class="t" style="top:728px;font-size:19px;color:#222;right:23.10px;letter-spacing:0.266px;">0,00 Kč</span>
<span class="t" style="top:749px;font-size:11px;color:#9a9a9a;right:21.60px;">Podíl z celku v %:</span>
<span class="t" style="top:762px;font-size:11px;color:#9a9a9a;right:21.60px;">0,00 % (0,00 Kč)</span>
<div class="a" style="left:286.7px;top:808.5px;width:13px;height:13px;border:1px solid #c2c2c2;background:#fff;border-radius:3px"></div>
<span class="t" style="top:808px;font-size:13px;color:#222;left:325.00px;">1.</span>
<span class="t" style="top:808px;font-size:13px;color:#1a5aa0;left:352.00px;letter-spacing:0.047px;">14.0</span>
<span class="t" style="top:810px;font-size:11px;color:#555;font-weight:700;right:852.10px;">(100,00 %)</span>
<span class="t" style="top:808px;font-size:13px;color:#222;font-weight:700;right:905.80px;">1</span>
<span class="t" style="top:810px;font-size:11px;color:#8a8a8a;right:752.00px;">(100,00 %)</span>
<span class="t" style="top:808px;font-size:13px;color:#222;right:804.70px;">1</span>
<span class="t" style="top:810px;font-size:11px;color:#8a8a8a;right:651.60px;">(100,00 %)</span>
<span class="t" style="top:808px;font-size:13px;color:#222;right:704.20px;">1</span>
<span class="t" style="top:808px;font-size:13px;color:#222;right:539.50px;">100,00 %</span>
<span class="t" style="top:808px;font-size:13px;color:#222;right:438.00px;">1,00</span>
<span class="t" style="top:808px;font-size:13px;color:#222;right:319.00px;">00:00:00</span>
<span class="t" style="top:808px;font-size:13px;color:#222;right:215.40px;">0,00 %</span>
<span class="t" style="top:808px;font-size:13px;color:#222;left:1328.90px;">0</span>
<span class="t" style="top:810px;font-size:11px;color:#8a8a8a;right:132.50px;">(0,00 %)</span>
<span class="t" style="top:808px;font-size:13px;color:#222;left:1404.70px;letter-spacing:-0.113px;">0,00 Kč</span>
<span class="t" style="top:810px;font-size:11px;color:#8a8a8a;right:21.20px;">(0,00 %)</span>
<span class="t" style="top:849px;font-size:11px;color:#222;left:1161.70px;letter-spacing:0.083px;">Zobrazit řádky:</span>
<div class="a" style="left:1241.3px;top:845.7px;width:58.6px;height:17.2px;border:1px solid #d0d0d0;border-radius:4px;background:#fff;box-shadow:0 1px 1px rgba(0,0,0,.08)"></div>
<div class="a" style="left:1286.3px;top:845.7px;width:13.6px;height:17.2px;border-radius:0 4px 4px 0;background:linear-gradient(#4f9bf8,#1a6fe8)"></div>
<svg class="a" style="left:1289.1px;top:848.5px" width="8" height="12" viewBox="0 0 8 12"><path d="M1.3 4.6L4 1.9l2.7 2.7M1.3 7.4L4 10.1l2.7-2.7" fill="none" stroke="#fff" stroke-width="1.3"/></svg>
<span class="t" style="top:849px;font-size:12px;color:#222;left:1249.50px;letter-spacing:0.324px;">5000</span>
<span class="t" style="top:849px;font-size:11px;color:#222;left:1306.30px;letter-spacing:-0.033px;">Přejít na:</span>
<div class="a" style="left:1355.5px;top:841.4px;width:33.3px;height:24.4px;border:1px solid #c4c4c4;border-radius:2px;background:#fff;box-shadow:inset 0 1px 2px rgba(0,0,0,.12)"></div>
<span class="t" style="top:849px;font-size:12px;color:#222;left:1361.00px;">1</span>
<span class="t" style="top:849px;font-size:11px;color:#222;left:1395.20px;letter-spacing:-0.013px;">1–1 z 1</span>
<div class="a" style="left:1439.7px;top:841.4px;width:56.2px;height:22.3px;border:1px solid #c9c9c9;border-radius:3px;background:linear-gradient(#fdfdfd,#f1f1f1);box-shadow:0 1px 1px rgba(0,0,0,.06);"></div>
<div class="a" style="left:1467.6px;top:842.4px;width:1px;height:20.3px;background:#d0d0d0;"></div>
<svg class="a" style="left:1448.5px;top:847px" width="10" height="11" viewBox="0 0 10 11"><path d="M6.7 1.6L3 5.5l3.7 3.9" fill="none" stroke="#222" stroke-width="2.1"/></svg>
<svg class="a" style="left:1476.5px;top:847px" width="10" height="11" viewBox="0 0 10 11"><path d="M3.3 1.6L7 5.5 3.3 9.4" fill="none" stroke="#222" stroke-width="2.1"/></svg>
<span class="t" style="top:877px;font-size:11px;color:#6b6b6b;left:1158.70px;letter-spacing:0.011px;">Tento přehled byl vygenerován 17.12.19 v 10:18:53 - </span>
<span class="t" style="top:877px;font-size:11px;color:#1a5aa0;left:1419.50px;letter-spacing:0.049px;">Obnovit přehled</span>
<span class="t" style="top:934px;font-size:14px;color:#6b7075;left:492.00px;letter-spacing:0.508px;">© 2019 Google</span>
<span class="t" style="top:934px;font-size:14px;color:#1a73e8;left:597.00px;letter-spacing:0.641px;">| Domovská stránka Analytics | Smluvní podmínky | Zásady ochrany soukromí | Odeslat zpětnou vazbu</span>
</div></body></html>
